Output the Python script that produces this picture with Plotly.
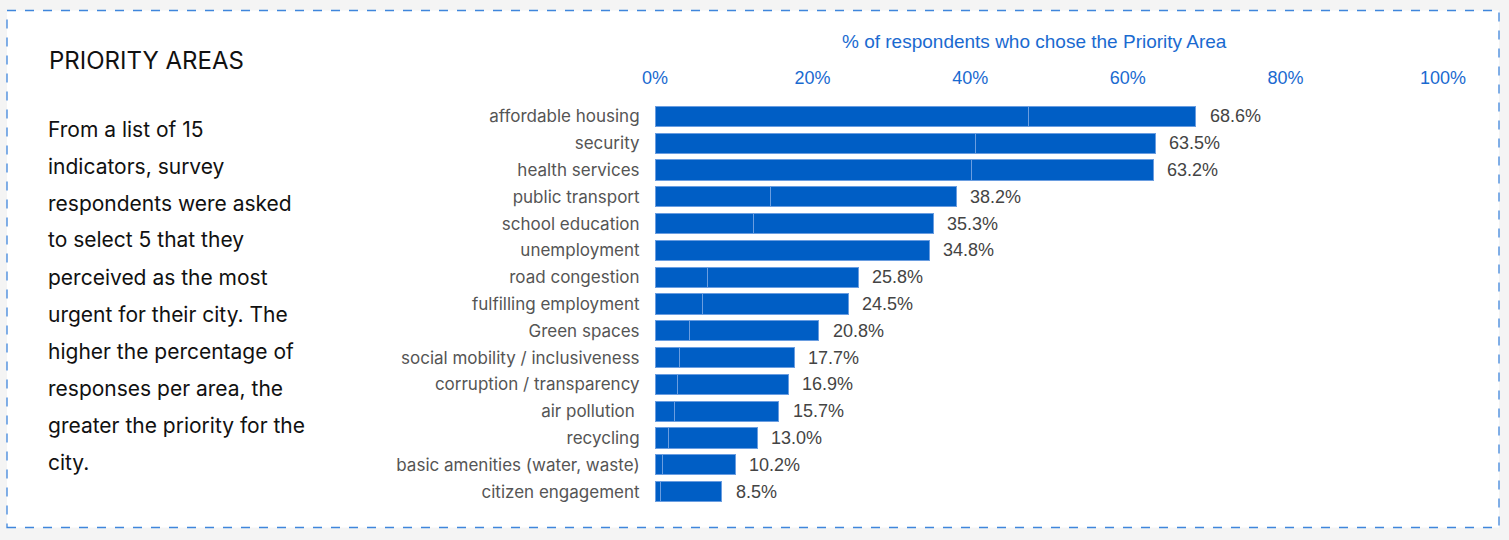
import plotly.graph_objects as go

categories = [
    "affordable housing", "security", "health services", "public transport",
    "school education", "unemployment", "road congestion", "fulfilling employment",
    "Green spaces", "social mobility / inclusiveness", "corruption / transparency",
    "air pollution ", "recycling", "basic amenities (water, waste)", "citizen engagement",
]
totals = [68.6, 63.5, 63.2, 38.2, 35.3, 34.8, 25.8, 24.5, 20.8, 17.7, 16.9, 15.7, 13.0, 10.2, 8.5]
first_part = [47.4, 40.7, 40.2, 14.7, 12.5, 0.0, 6.6, 6.0, 4.35, 3.1, 2.8, 2.45, 1.7, 1.0, 0.7]
second_part = [round(t - f, 2) for t, f in zip(totals, first_part)]
value_labels = [f"{t:.1f}%" for t in totals]
tick_vals = [0, 20, 40, 60, 80, 100]
tick_text = ["0%", "20%", "40%", "60%", "80%", "100%"]

title_text = "PRIORITY AREAS"
para_lines = [
    "From a list of 15",
    "indicators, survey",
    "respondents were asked",
    "to select 5 that they",
    "perceived as the most",
    "urgent for their city. The",
    "higher the percentage of",
    "responses per area, the",
    "greater the priority for the",
    "city.",
]
axis_title = "% of respondents who chose the Priority Area"

W, H = 1509, 540
ML, MR, MT, MB = 655, 66, 103, 35
PX0, PX1 = ML, W - MR
PY0, PY1 = MT, H - MB


def px(x):
    return (x - PX0) / (PX1 - PX0)


def py(y):
    return (PY1 - y) / (PY1 - PY0)


BAR = "#005ec5"
EDGE = "#6a9de0"
BLUE_TXT = "#1a6ad0"
TXT_FONT = "Inter, Roboto, sans-serif"
NUM_FONT = "Liberation Sans, Arial, sans-serif"

fig = go.Figure()
fig.add_trace(go.Bar(
    y=categories, x=first_part, orientation="h",
    marker=dict(color=BAR, line=dict(color=EDGE, width=1)),
    hoverinfo="skip",
))
fig.add_trace(go.Bar(
    y=categories, x=second_part, orientation="h",
    marker=dict(color=BAR, line=dict(color=EDGE, width=1)),
    hoverinfo="skip",
))

for c, t, lab in zip(categories, totals, value_labels):
    fig.add_annotation(x=t, y=c, xref="x", yref="y", text=lab, showarrow=False,
                       xanchor="left", xshift=12,
                       font=dict(family=NUM_FONT, size=18, color="#444444"))

# frame
fig.add_shape(type="rect", xref="paper", yref="paper",
              x0=px(7), x1=px(1499), y0=py(527.5), y1=py(10.5),
              fillcolor="white", line=dict(color="#3f86dc", width=1.3, dash="dash"),
              layer="below")

fig.add_annotation(xref="paper", yref="paper", x=px(47), y=py(61),
                   text=title_text, showarrow=False, xanchor="left", yanchor="middle",
                   font=dict(family=TXT_FONT, size=24, color="#111111"))
for i, line in enumerate(para_lines):
    fig.add_annotation(xref="paper", yref="paper", x=px(46), y=py(129 + 37 * i),
                       text=line, showarrow=False, xanchor="left", yanchor="middle",
                       font=dict(family=TXT_FONT, size=21, color="#111111"))

fig.add_annotation(xref="paper", yref="paper", x=px(1034), y=py(42),
                   text=axis_title, showarrow=False, xanchor="center", yanchor="middle",
                   font=dict(family=NUM_FONT, size=19, color=BLUE_TXT))

fig.update_layout(
    width=W, height=H,
    barmode="stack", bargap=0.25, showlegend=False,
    paper_bgcolor="#f4f4f4", plot_bgcolor="rgba(0,0,0,0)",
    margin=dict(l=ML, r=MR, t=MT, b=MB, pad=0),
    xaxis=dict(range=[0, 100], side="top", tickvals=tick_vals, ticktext=tick_text,
               showgrid=False, zeroline=False, showline=False,
               ticks="outside", ticklen=11, tickcolor="rgba(0,0,0,0)",
               tickfont=dict(family=NUM_FONT, size=18, color=BLUE_TXT),
               fixedrange=True),
    yaxis=dict(categoryorder="array", categoryarray=categories, autorange="reversed",
               showgrid=False, zeroline=False, showline=False,
               ticks="outside", ticklen=11, tickcolor="rgba(0,0,0,0)",
               tickfont=dict(family=TXT_FONT, size=17, color="#555555"),
               fixedrange=True),
)

fig.write_html(
    "out.html",
    config={"displayModeBar": False},
    post_script="document.body.style.margin='0';document.body.style.background='#f4f4f4';",
)
